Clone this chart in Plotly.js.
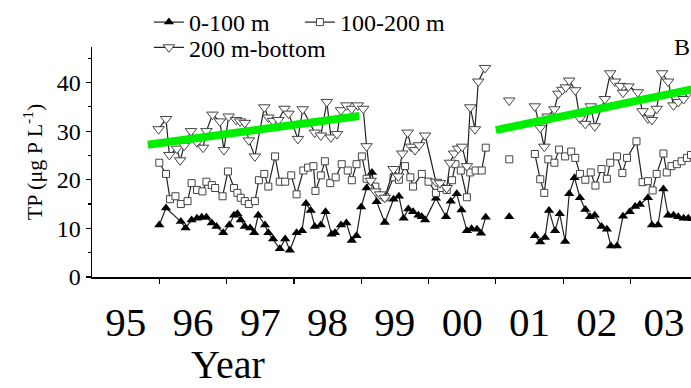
<!DOCTYPE html>
<html>
<head>
<meta charset="utf-8">
<script src="https://cdn.plot.ly/plotly-3.0.1.min.js"></script>
<style>html,body{margin:0;padding:0;background:#fff;}#chart{width:691px;height:388px;}</style>
</head>
<body>
<div id="chart"></div>
<script>
// ---- data (decimal years, TP in µg P/L) ----
const yearLabelPos = [1995.5,1996.5,1997.5,1998.5,1999.5,2000.5,2001.5,2002.5,2003.5];
const yearLabels = ['95','96','97','98','99','00','01','02','03'];
const yearTicks = [1996,1997,1998,1999,2000,2001,2002,2003];

const xTop = [1996.00,1996.10,1996.32,1996.39,1996.48,1996.56,1996.63,1996.70,1996.78,1996.85,1996.95,
  1997.04,1997.11,1997.16,1997.21,1997.27,1997.35,1997.41,1997.47,1997.57,1997.62,1997.69,1997.79,1997.87,1997.94,
  1998.04,1998.12,1998.18,1998.25,1998.31,1998.40,1998.47,1998.56,1998.61,1998.70,1998.78,1998.86,1998.93,
  1999.00,1999.08,1999.16,1999.23,1999.35,1999.48,1999.56,1999.63,1999.70,1999.77,1999.85,1999.90,1999.95,
  2000.11,2000.26,2000.33,2000.42,2000.49,2000.57,2000.64,2000.72,2000.78,2000.85,2001.00,2001.20,2001.40,
  2001.58,2001.66,2001.73,2001.79,2001.88,2001.95,2002.03,2002.09,2002.17,2002.25,2002.33,2002.40,2002.47,
  2002.57,2002.65,2002.71,2002.80,2002.89,2002.99,2003.07,2003.14,2003.26,2003.32,2003.41,2003.49,2003.56,
  2003.64,2003.71,2003.79,2003.86,2003.93];
const tpTop = [10.7,14.2,11.4,10.1,11.7,12.1,12.3,12.3,11.1,10.4,9.1,
  10.7,12.7,13.0,11.7,10.4,10.1,9.1,12.7,10.7,9.1,7.8,5.8,7.8,5.5,
  9.1,9.5,15.1,13.7,10.4,10.7,13.4,8.8,9.1,10.7,11.1,7.5,8.5,
  14.4,18.3,21.5,15.5,11.2,16.0,16.6,12.1,14.0,13.4,12.7,12.4,11.7,
  16.2,12.4,15.6,17.1,13.8,9.5,9.9,9.8,9.0,12.3,null,12.4,null,
  8.5,7.2,8.1,13.7,9.5,13.0,7.3,17.1,20.4,16.3,13.9,12.4,12.7,
  10.4,9.8,6.4,6.4,12.5,13.4,14.5,14.9,16.3,10.7,10.7,18.1,12.7,
  12.7,12.4,12.1,12.1,12.0];

const xMid = [1996.00,1996.10,1996.16,1996.24,1996.32,1996.42,1996.48,1996.56,1996.64,1996.70,1996.78,1996.83,1996.94,
  1997.02,1997.11,1997.16,1997.21,1997.27,1997.33,1997.42,1997.48,1997.56,1997.62,1997.72,1997.79,1997.87,1997.96,
  1998.04,1998.14,1998.21,1998.29,1998.32,1998.40,1998.46,1998.54,1998.62,1998.71,1998.80,1998.86,1998.93,
  1999.01,1999.08,1999.21,1999.36,1999.48,1999.56,1999.65,1999.73,1999.77,1999.90,
  2000.00,2000.11,2000.19,2000.27,2000.35,2000.40,2000.48,2000.57,2000.62,2000.70,2000.79,2000.85,2001.00,2001.20,2001.40,
  2001.58,2001.66,2001.72,2001.78,2001.87,2001.94,2002.03,2002.12,2002.18,2002.25,2002.33,2002.41,2002.48,
  2002.57,2002.65,2002.70,2002.80,2002.88,2002.95,2003.09,2003.18,2003.26,2003.33,2003.39,2003.49,2003.54,
  2003.61,2003.69,2003.76,2003.84,2003.90];
const tpMid = [23.5,21.2,16.0,16.6,15.0,15.6,19.3,17.9,17.6,19.6,18.9,18.3,16.6,
  21.7,18.3,17.3,16.3,15.6,15.0,15.6,19.9,21.2,18.6,24.8,19.6,19.6,20.9,
  17.0,21.9,22.5,22.8,17.7,20.9,23.8,19.3,20.5,23.2,21.9,19.9,23.2,
  24.8,20.2,18.6,16.4,20.5,20.0,22.8,20.5,18.6,21.2,
  19.6,17.3,18.3,17.9,19.9,23.2,21.9,16.4,21.5,21.9,21.9,26.6,null,24.2,null,
  25.3,20.1,17.3,24.2,23.5,26.2,24.8,25.8,24.5,21.2,20.0,21.5,18.8,
  22.2,20.2,23.5,24.8,21.4,24.5,27.9,19.5,19.7,17.8,21.2,25.4,21.5,
  22.8,23.2,23.8,24.5,25.1];

const xBot = [1995.99,1996.10,1996.15,1996.26,1996.31,1996.37,1996.47,1996.56,1996.65,1996.70,1996.79,1996.90,1996.96,
  1997.03,1997.14,1997.20,1997.27,1997.33,1997.42,1997.56,1997.62,1997.69,1997.77,1997.86,1997.92,
  1998.06,1998.13,1998.31,1998.40,1998.49,1998.55,1998.64,1998.70,1998.78,1998.86,1998.95,
  1999.03,1999.08,1999.14,1999.21,1999.28,1999.35,1999.48,1999.55,1999.61,1999.69,1999.74,1999.80,1999.86,1999.95,
  2000.11,2000.17,2000.27,2000.32,2000.38,2000.44,2000.50,2000.57,2000.62,2000.69,2000.74,2000.84,2001.00,2001.20,2001.40,
  2001.58,2001.66,2001.72,2001.77,2001.87,2001.93,2001.99,2002.04,2002.09,2002.18,2002.25,2002.33,2002.41,2002.47,
  2002.62,2002.70,2002.77,2002.85,2002.89,2002.97,2003.11,2003.18,2003.26,2003.32,2003.39,2003.47,2003.56,
  2003.64,2003.71,2003.79,2003.86,2003.93];
const tpBot = [30.4,32.5,25.1,26.4,24.0,27.0,30.0,27.7,26.6,30.0,33.4,32.0,26.1,
  33.0,32.3,32.0,31.7,28.1,24.8,34.9,32.8,32.1,32.3,34.6,33.6,
  28.4,34.5,29.7,29.1,36.0,28.7,29.4,34.3,35.3,34.6,35.3,
  34.6,26.9,19.8,17.6,17.0,16.3,22.2,20.7,25.4,29.7,26.8,26.1,27.1,29.1,
  19.6,19.3,18.3,23.5,25.4,26.4,26.8,22.8,34.9,30.4,40.2,43.0,null,36.3,null,
  35.1,30.7,26.8,33.0,34.5,37.7,38.5,39.0,40.4,38.4,32.6,31.5,35.1,31.0,
  36.6,41.9,40.2,39.3,37.9,39.2,38.0,34.1,32.6,32.3,34.6,41.9,40.2,
  35.3,36.0,36.6,37.9,38.2];

// trend lines (200 m-bottom)
const trend1X = [1995.83, 1998.97];
const trend1Y = [27.2, 33.1];
const trend2X = [2001.00, 2003.95];
const trend2Y = [30.2, 38.7];

const serif = 'Liberation Serif, Times New Roman, serif';
const lineCol = '#222';

const traces = [
  {x: xTop, y: tpTop, name: '0-100 m', mode: 'lines+markers', connectgaps: false,
   line: {color: lineCol, width: 1.2},
   marker: {symbol: 'triangle-up', size: 9, color: '#000'}, legend: 'legend'},
  {x: xMid, y: tpMid, name: '100-200 m', mode: 'lines+markers', connectgaps: false,
   line: {color: lineCol, width: 1.2},
   marker: {symbol: 'square', size: 7, color: '#fff', line: {color: '#444', width: 1}}, legend: 'legend'},
  {x: xBot, y: tpBot, name: '200 m-bottom', mode: 'lines+markers', connectgaps: false,
   line: {color: lineCol, width: 1.2},
   marker: {symbol: 'triangle-down', size: 10, color: '#fff', line: {color: '#444', width: 1}}, legend: 'legend2'},
  {x: trend1X, y: trend1Y, mode: 'lines', showlegend: false, hoverinfo: 'skip',
   line: {color: '#00ee00', width: 8}},
  {x: trend2X, y: trend2Y, mode: 'lines', showlegend: false, hoverinfo: 'skip',
   line: {color: '#00ee00', width: 8}}
];

const layout = {
  width: 691, height: 388,
  margin: {l: 92, r: 0, t: 35, b: 111},
  paper_bgcolor: '#fff', plot_bgcolor: '#fff',
  font: {family: serif, color: '#000'},
  showlegend: true,
  legend: {orientation: 'h', x: 0.095, y: 1.107, xanchor: 'left', yanchor: 'middle',
    font: {family: serif, size: 24, color: '#000'}, bgcolor: 'rgba(0,0,0,0)', entrywidth: 106,
    itemclick: false},
  legend2: {orientation: 'h', x: 0.095, y: 0.997, xanchor: 'left', yanchor: 'middle',
    font: {family: serif, size: 24, color: '#000'}, bgcolor: 'rgba(0,0,0,0)'},
  xaxis: {
    range: [1995, 2003.9], showgrid: false, zeroline: false,
    showline: true, linecolor: '#000', linewidth: 1.5,
    tickmode: 'array', tickvals: yearLabelPos, ticktext: yearLabels,
    ticks: '', ticklabelstandoff: 8,
    tickfont: {family: serif, size: 41, color: '#000'},
    minor: {tickmode: 'array', tickvals: yearTicks, ticks: 'outside', ticklen: 5, tickwidth: 1.2, tickcolor: '#000', showgrid: false}
  },
  yaxis: {
    range: [0, 47.3], showgrid: false, zeroline: false,
    showline: true, linecolor: '#000', linewidth: 1.5,
    tickmode: 'array', tickvals: [0, 10, 20, 30, 40],
    ticks: 'outside', ticklen: 5, tickwidth: 1.2, tickcolor: '#000',
    tickfont: {family: serif, size: 24, color: '#000'},
    minor: {tickmode: 'array', tickvals: [5, 15, 25, 35, 45], ticks: 'outside', ticklen: 3, tickwidth: 1.2, tickcolor: '#000', showgrid: false},
    title: {text: 'TP (μg P L<sup>-1</sup>)', font: {family: serif, size: 22, color: '#000'}, standoff: 8}
  },
  annotations: [
    {text: 'Year', xref: 'paper', yref: 'paper', x: 0.227, y: -0.38, xanchor: 'center', yanchor: 'middle',
     showarrow: false, font: {family: serif, size: 40, color: '#000'}},
    {text: 'B', xref: 'paper', yref: 'paper', x: 0.968, y: 1.0, xanchor: 'left', yanchor: 'middle',
     showarrow: false, font: {family: serif, size: 24, color: '#000'}}
  ]
};

Plotly.newPlot('chart', traces, layout, {displayModeBar: false, staticPlot: true});
</script>
</body>
</html>
